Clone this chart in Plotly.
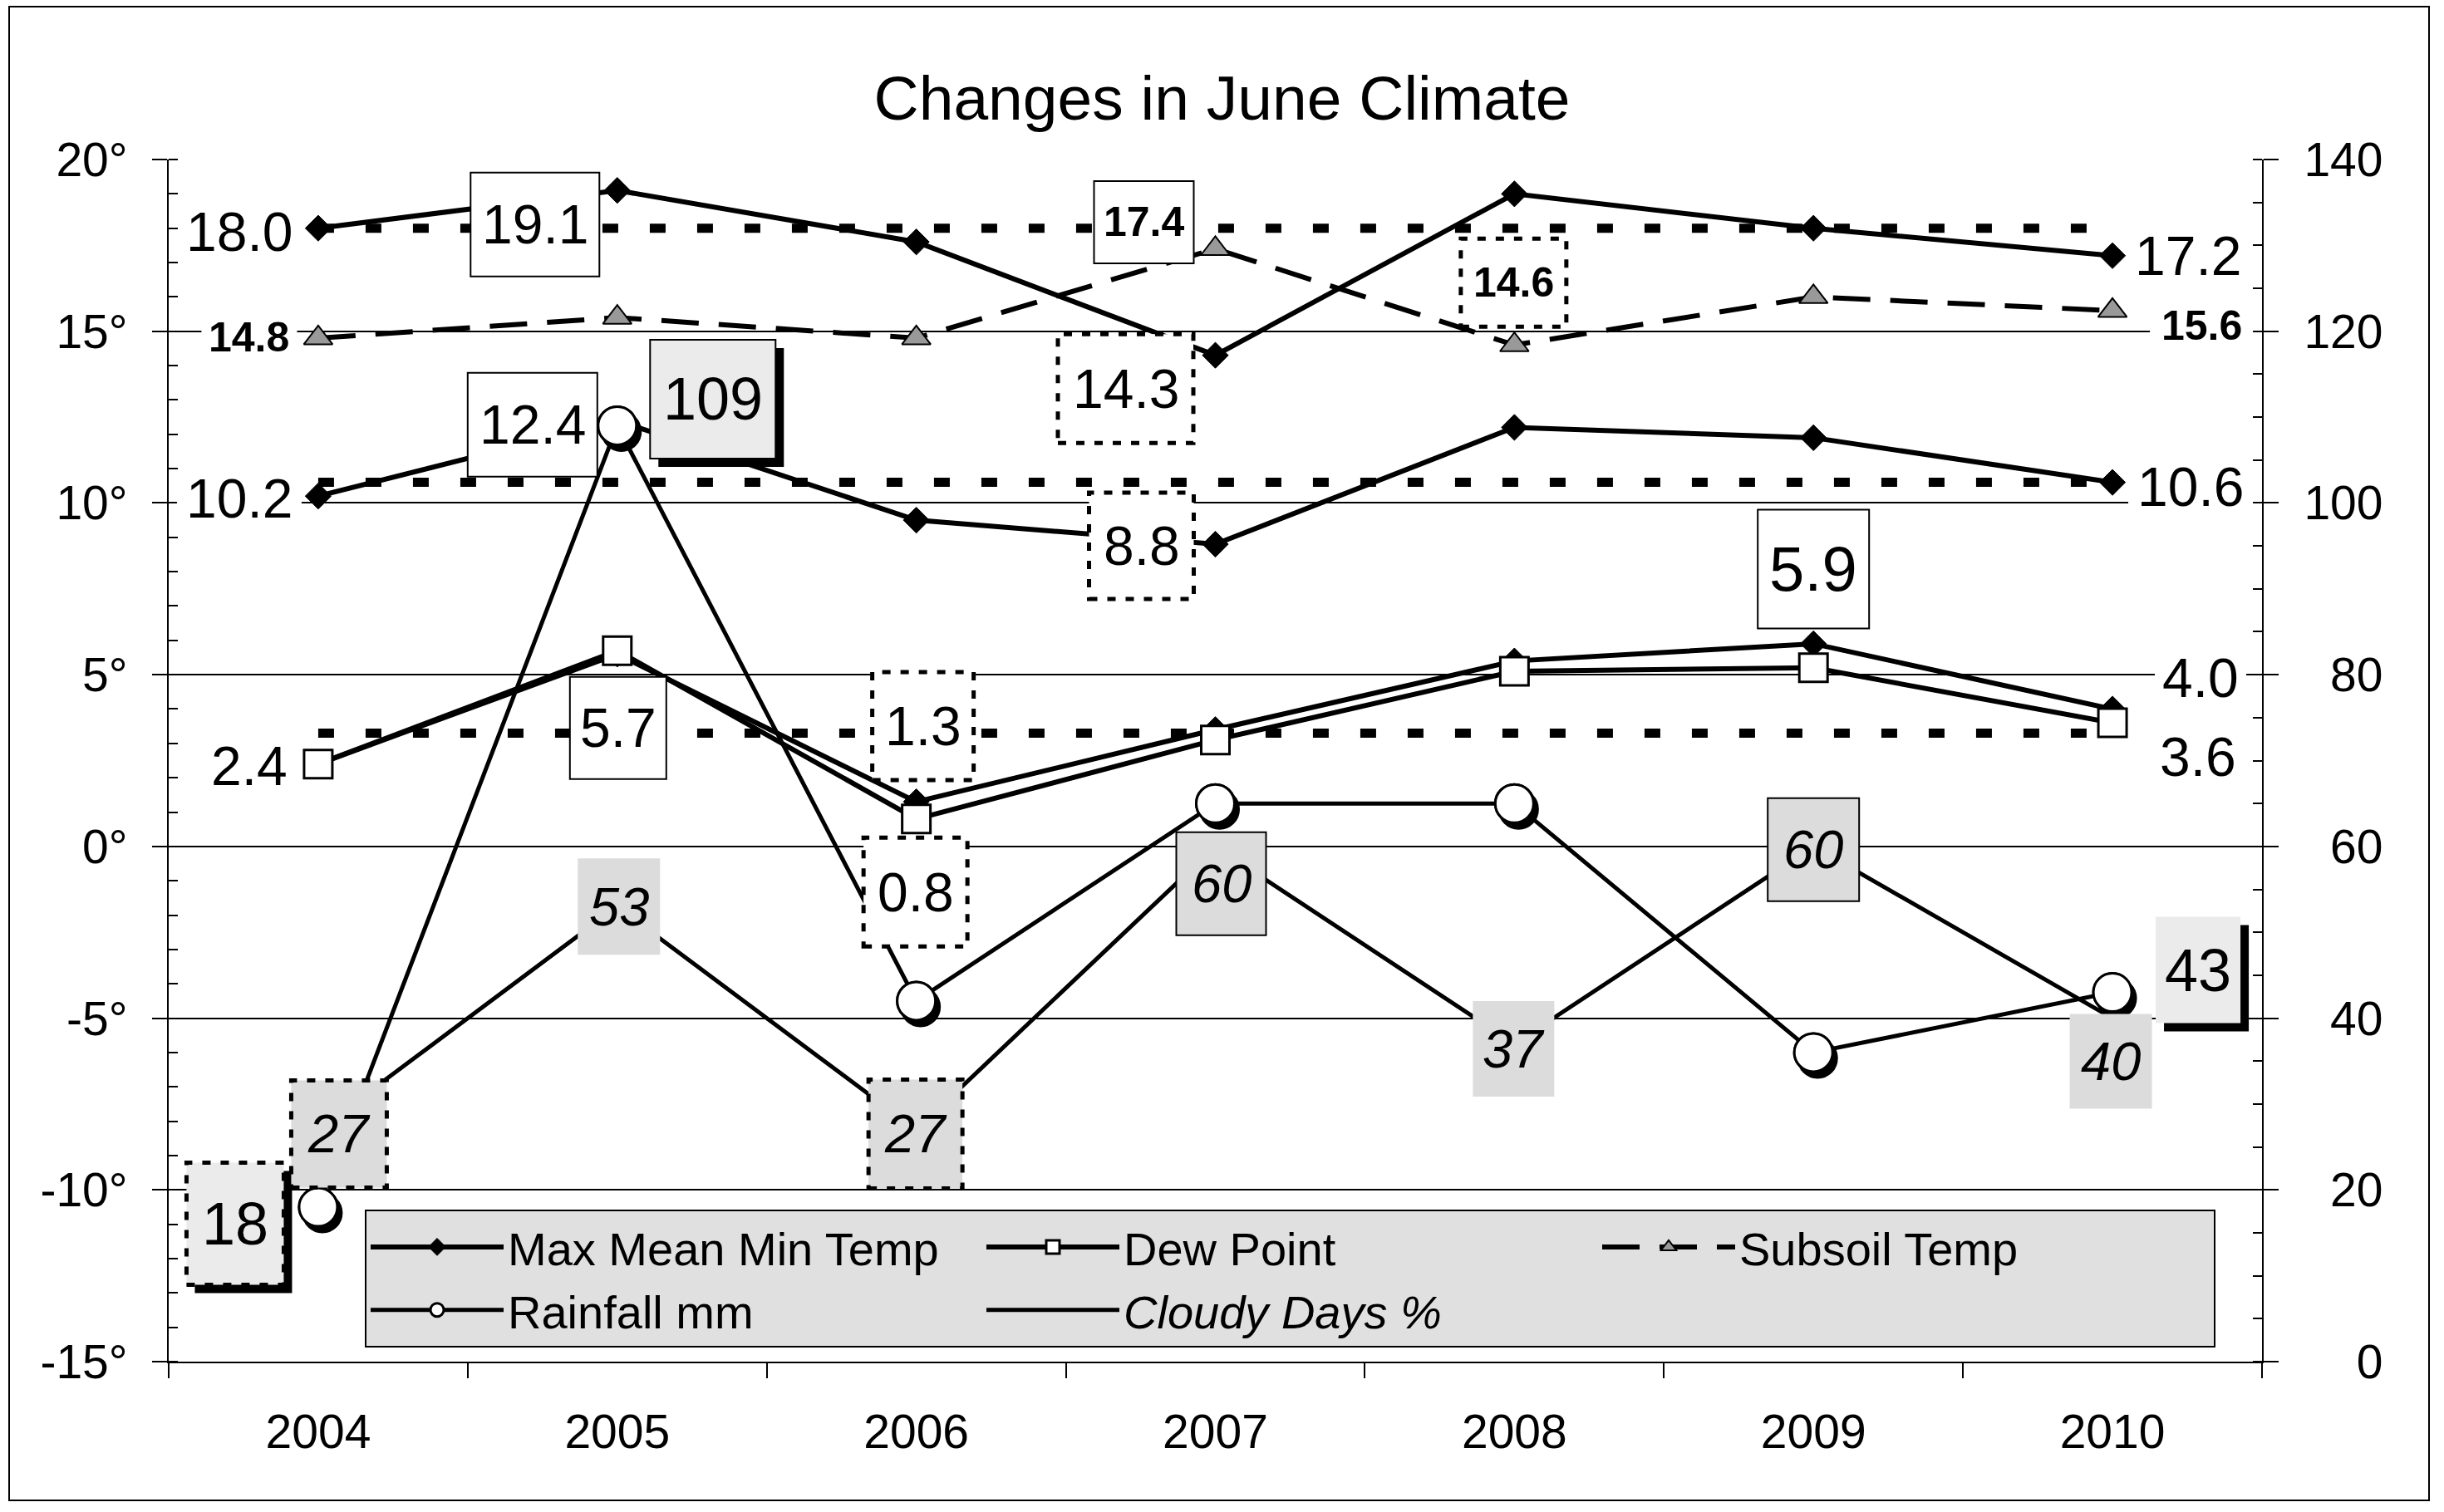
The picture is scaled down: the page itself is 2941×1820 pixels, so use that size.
import plotly.graph_objects as go

# ---------------- data ----------------
years = [2004, 2005, 2006, 2007, 2008, 2009, 2010]
year_labels = ["2004", "2005", "2006", "2007", "2008", "2009", "2010"]
max_temp = [18.0, 19.1, 17.6, 14.3, 19.0, 18.0, 17.2]
min_temp = [10.2, 12.4, 9.5, 8.8, 12.2, 11.9, 10.6]
third_temp = [2.4, 5.6, 1.3, 3.4, 5.4, 5.9, 4.0]
dew_point = [2.4, 5.7, 0.8, 3.1, 5.1, 5.2, 3.6]
subsoil_temp = [14.8, 15.4, 14.8, 17.4, 14.6, 16.0, 15.6]
rainfall_mm = [18, 109, 42, 65, 65, 36, 43]
cloudy_days_pct = [27, 53, 27, 60, 37, 60, 40]
period_means = [18.0, 10.6, 3.3]

temp_ticks = [-15, -10, -5, 0, 5, 10, 15, 20]
temp_tick_text = ["-15°", "-10°", "-5°", "0°", "5°", "10°", "15°", "20°"]
right_ticks = [0, 20, 40, 60, 80, 100, 120, 140]
right_tick_text = ["\u2007\u20070", "\u200720", "\u200740", "\u200760", "\u200780", "100", "120", "140"]

# ---------------- layout constants ----------------
W, H = 2941, 1820
L, R, T, B = 203, 2722, 192, 1639
PW, PH = R - L, B - T
FONT = "Liberation Sans, Arial, sans-serif"
LEFT_RANGE = [-15, 20]
RIGHT_RANGE = [0, 140]
X_RANGE = [years[0] - 0.5, years[-1] + 0.5]

fig = go.Figure()

# long-term mean dotted lines
for m in period_means:
    fig.add_trace(go.Scatter(
        x=[years[0], years[-1]], y=[m, m], mode="lines",
        line=dict(color="black", width=11, dash="19px,38px"),
        showlegend=False, hoverinfo="skip"))

fig.add_trace(go.Scatter(
    x=years, y=subsoil_temp, name="Subsoil Temp", mode="lines+markers",
    line=dict(color="black", width=6, dash="45px,24px"),
    marker=dict(symbol="triangle-up", size=30, color="#999999",
                line=dict(color="black", width=2)),
    legendrank=3))

diamond = dict(symbol="diamond", size=24, color="black", line=dict(color="black", width=1))
fig.add_trace(go.Scatter(x=years, y=max_temp, name="Max Mean Min Temp",
                         mode="lines+markers", line=dict(color="black", width=6),
                         marker=diamond, legendrank=1))
fig.add_trace(go.Scatter(x=years, y=min_temp, name="Min Temp", mode="lines+markers",
                         line=dict(color="black", width=6), marker=diamond,
                         showlegend=False))
fig.add_trace(go.Scatter(x=years, y=third_temp, name="Temp", mode="lines+markers",
                         line=dict(color="black", width=6), marker=diamond,
                         showlegend=False))
fig.add_trace(go.Scatter(
    x=years, y=dew_point, name="Dew Point", mode="lines+markers",
    line=dict(color="black", width=6),
    marker=dict(symbol="square", size=34, color="white", line=dict(color="black", width=3)),
    legendrank=2))

fig.add_trace(go.Scatter(x=years, y=cloudy_days_pct, name="<i>Cloudy Days %</i>",
                         mode="lines", line=dict(color="black", width=5),
                         yaxis="y2", legendrank=5))

circle = dict(symbol="circle", size=46, color="white", line=dict(color="black", width=3))
fig.add_trace(go.Scatter(x=years, y=rainfall_mm, name="Rainfall mm", mode="lines+markers",
                         line=dict(color="black", width=5), marker=circle,
                         yaxis="y2", legendrank=4))
# drop shadow of rainfall markers (offset axes) and markers redrawn on top
fig.add_trace(go.Scatter(x=years, y=rainfall_mm, mode="markers", xaxis="x2", yaxis="y3",
                         marker=dict(symbol="circle", size=46, color="black",
                                     line=dict(color="black", width=3)),
                         showlegend=False, hoverinfo="skip"))
fig.add_trace(go.Scatter(x=years, y=rainfall_mm, mode="markers", xaxis="x3", yaxis="y4",
                         marker=circle, showlegend=False, hoverinfo="skip"))

# ---------------- data labels ----------------
SERIES = {
    "max": (max_temp, "y"), "min": (min_temp, "y"), "third": (third_temp, "y"),
    "dew": (dew_point, "y"), "subsoil": (subsoil_temp, "y"),
    "rain": (rainfall_mm, "y2"), "cloudy": (cloudy_days_pct, "y2"),
}
STYLE = {
    "max": dict(size=66, fill="white", fmt="{:.1f}", shadow=None),
    "min": dict(size=66, fill="white", fmt="{:.1f}", shadow=None),
    "third": dict(size=66, fill="white", fmt="{:.1f}", shadow=None),
    "dew": dict(size=66, fill="white", fmt="{:.1f}", shadow=None),
    "subsoil": dict(size=50, fill="white", fmt="<b>{:.1f}</b>", shadow=None),
    "rain": dict(size=72, fill="#ebebeb", fmt="{:d}", shadow=(10, 10)),
    "cloudy": dict(size=65, fill="#dcdcdc", fmt="<i>{:d}</i>", shadow=None),
}
FONT_SIZE_OVERRIDE = {("third", 5): 76}
# series, index, kind, dx, dy(down), w, h
LABELS = [
    ("max", 0, "plain", -95, 4, 140, 62),
    ("max", 1, "max", -99, 41, 155, 125),
    ("max", 3, "min", -108, 40, 163, 131),
    ("max", 6, "plain", 91, 0, 140, 62),
    ("min", 0, "plain", -95, 3, 150, 62),
    ("min", 1, "max", -102, 5, 156, 125),
    ("min", 3, "min", -89, 2, 126, 128),
    ("min", 6, "plain", 94, 5, 150, 62),
    ("third", 2, "min", 8, -91, 122, 130),
    ("third", 5, "max", 0, -90, 134, 143),
    ("third", 6, "plain", 106, -37, 110, 62),
    ("dew", 0, "plain", -83, 2, 110, 62),
    ("dew", 1, "max", 1, 93, 116, 123),
    ("dew", 2, "min", -1, 88, 125, 131),
    ("dew", 6, "plain", 103, 41, 110, 62),
    ("subsoil", 0, "plain", -83, -1, 115, 48),
    ("subsoil", 3, "max", -86, -32, 120, 99),
    ("subsoil", 4, "min", -1, -75, 127, 106),
    ("subsoil", 6, "plain", 107, 18, 124, 48),
    ("rain", 0, "min", -100, 20, 117, 147),
    ("rain", 1, "max", 115, -32, 151, 143),
    ("rain", 6, "plain", 103, -27, 102, 128),
    ("cloudy", 0, "min", 25, 5, 115, 129),
    ("cloudy", 1, "plain", 2, 0, 99, 116),
    ("cloudy", 2, "min", -1, 5, 113, 131),
    ("cloudy", 3, "max", 7, 45, 108, 124),
    ("cloudy", 4, "plain", -1, 6, 98, 115),
    ("cloudy", 5, "max", 0, 4, 110, 124),
    ("cloudy", 6, "plain", -2, 52, 99, 114),
]

shapes = []
annotations = []
for key, i, kind, dx, dy, w, h in LABELS:
    vals, yref = SERIES[key]
    st = STYLE[key]
    base = dict(type="rect", xref="x", yref=yref, xsizemode="pixel", ysizemode="pixel",
                xanchor=years[i], yanchor=vals[i], layer="above")
    if st["shadow"]:
        sx, sy = st["shadow"]
        shapes.append(dict(base, x0=dx - w / 2 + sx, x1=dx + w / 2 + sx,
                           y0=-(dy + sy) - h / 2, y1=-(dy + sy) + h / 2,
                           fillcolor="black", line=dict(width=0)))
    if kind == "max":
        line = dict(color="black", width=2)
    elif kind == "min":
        line = dict(color="black", width=5, dash="10px,12px")
    else:
        line = dict(width=0)
    shapes.append(dict(base, x0=dx - w / 2, x1=dx + w / 2, y0=-dy - h / 2, y1=-dy + h / 2,
                       fillcolor=st["fill"], line=line))
    annotations.append(dict(
        x=years[i], y=vals[i], xref="x", yref=yref, xshift=dx, yshift=-dy,
        text=st["fmt"].format(vals[i]), showarrow=False, xanchor="center", yanchor="middle",
        font=dict(family=FONT, size=FONT_SIZE_OVERRIDE.get((key, i), st["size"]),
                  color="black")))

# outer chart border
shapes.append(dict(type="rect", xref="paper", yref="paper", layer="above",
                   x0=(11 - L) / PW, x1=(2923 - L) / PW,
                   y0=(B - 1806) / PH, y1=(B - 8) / PH,
                   line=dict(color="black", width=2), fillcolor="rgba(0,0,0,0)"))

shadow_dx = 5 / (PW / (X_RANGE[1] - X_RANGE[0]))
shadow_dy = 7 / (PH / (RIGHT_RANGE[1] - RIGHT_RANGE[0]))

axis_font = dict(family=FONT, size=57, color="black")
fig.update_layout(
    width=W, height=H,
    margin=dict(l=L, r=W - R, t=T, b=H - B, pad=0, autoexpand=False),
    paper_bgcolor="white", plot_bgcolor="white",
    font=dict(family=FONT, color="black"),
    title=dict(text="Changes in June Climate", x=0.5, xanchor="center",
               y=1 - 118 / H, yanchor="middle", font=dict(family=FONT, size=75)),
    xaxis=dict(type="linear", range=X_RANGE, tickvals=years, ticktext=year_labels,
               ticks="", showline=True, linecolor="black", linewidth=2,
               showgrid=False, zeroline=False, tickfont=axis_font, ticklabelstandoff=34,
               minor=dict(tick0=X_RANGE[0], dtick=1, ticks="outside", ticklen=18,
                          tickwidth=2, tickcolor="black", showgrid=False)),
    yaxis=dict(range=LEFT_RANGE, tickvals=temp_ticks, ticktext=temp_tick_text,
               ticks="outside", ticklen=18, tickwidth=2, tickcolor="black",
               showline=True, linecolor="black", linewidth=2,
               showgrid=True, gridcolor="black", gridwidth=1.5, zeroline=False,
               minor=dict(ticks="inside", ticklen=11, dtick=1, tickwidth=1.5,
                          tickcolor="black", showgrid=False),
               tickfont=axis_font, ticklabelstandoff=18),
    yaxis2=dict(range=RIGHT_RANGE, overlaying="y", side="right", anchor="x",
                tickvals=right_ticks, ticktext=right_tick_text,
                ticks="outside", ticklen=18, tickwidth=2, tickcolor="black",
                showline=True, linecolor="black", linewidth=2,
                showgrid=False, zeroline=False,
                minor=dict(ticks="inside", ticklen=11, dtick=5, tickwidth=1.5,
                           tickcolor="black", showgrid=False),
                tickfont=axis_font, ticklabelstandoff=19),
    xaxis2=dict(overlaying="x", range=[X_RANGE[0] - shadow_dx, X_RANGE[1] - shadow_dx],
                visible=False),
    xaxis3=dict(overlaying="x", range=X_RANGE, visible=False),
    yaxis3=dict(overlaying="y", range=[RIGHT_RANGE[0] + shadow_dy, RIGHT_RANGE[1] + shadow_dy],
                visible=False),
    yaxis4=dict(overlaying="y", range=RIGHT_RANGE, visible=False),
    legend=dict(orientation="h", x=(439 - L) / PW, y=(B - 1456) / PH,
                xanchor="left", yanchor="top", bgcolor="#e0e0e0",
                bordercolor="black", borderwidth=2,
                font=dict(family=FONT, size=56, color="black"),
                itemwidth=160, entrywidth=566, entrywidthmode="pixels",
                traceorder="normal", tracegroupgap=0),
    shapes=shapes, annotations=annotations,
    showlegend=True,
)

fig.write_html("out.html", config={"displayModeBar": False},
               post_script="document.body.style.margin='0';")
